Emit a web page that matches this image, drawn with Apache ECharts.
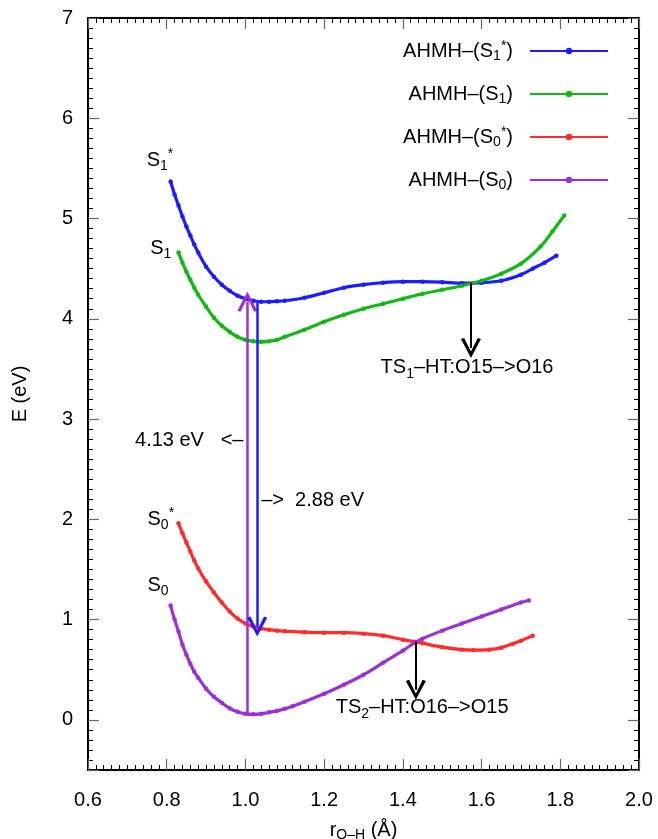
<!DOCTYPE html>
<html>
<head>
<meta charset="utf-8">
<title>AHMH potential energy curves</title>
<script src="https://cdn.jsdelivr.net/npm/echarts@6/dist/echarts.min.js"></script>
<style>
html,body{margin:0;padding:0;background:#fff;}
#chart{width:658px;height:839px;}
</style>
</head>
<body>
<div id="chart"></div>
<script>
// r(O-H) in Angstrom, E in eV
var rS1s = [0.81,0.82,0.83,0.84,0.85,0.86,0.87,0.88,0.90,0.92,0.94,0.96,0.98,1.00,1.02,1.04,1.06,1.08,1.10,1.15,1.20,1.25,1.30,1.35,1.40,1.45,1.50,1.55,1.60,1.65,1.70,1.73,1.76,1.79];
var eS1s = [5.37,5.24,5.13,5.02,4.92,4.83,4.74,4.66,4.52,4.42,4.34,4.28,4.23,4.20,4.18,4.17,4.17,4.175,4.18,4.21,4.26,4.31,4.34,4.36,4.37,4.37,4.365,4.355,4.36,4.38,4.44,4.50,4.56,4.63];

var rS1 = [0.83,0.84,0.85,0.86,0.87,0.88,0.90,0.92,0.94,0.96,0.98,1.00,1.02,1.04,1.06,1.08,1.10,1.15,1.20,1.25,1.30,1.35,1.40,1.45,1.50,1.55,1.60,1.65,1.70,1.75,1.78,1.81];
var eS1 = [4.66,4.56,4.47,4.39,4.31,4.24,4.12,4.01,3.93,3.87,3.82,3.79,3.775,3.77,3.775,3.79,3.82,3.89,3.97,4.04,4.10,4.15,4.20,4.25,4.29,4.33,4.38,4.45,4.55,4.72,4.87,5.03];

var rS0s = [0.83,0.84,0.85,0.86,0.87,0.88,0.90,0.92,0.94,0.96,0.98,1.00,1.02,1.04,1.06,1.08,1.10,1.15,1.20,1.25,1.30,1.35,1.40,1.43,1.45,1.50,1.55,1.58,1.62,1.65,1.68,1.70,1.73];
var eS0s = [1.96,1.86,1.77,1.68,1.59,1.51,1.38,1.27,1.17,1.08,1.01,0.96,0.93,0.91,0.90,0.89,0.885,0.875,0.87,0.87,0.86,0.84,0.80,0.78,0.765,0.725,0.70,0.695,0.70,0.72,0.76,0.79,0.84];

var rS0 = [0.81,0.82,0.83,0.84,0.85,0.86,0.87,0.88,0.90,0.92,0.94,0.96,0.98,1.00,1.02,1.04,1.06,1.08,1.10,1.12,1.15,1.20,1.25,1.30,1.35,1.40,1.43,1.45,1.50,1.55,1.60,1.65,1.70,1.72];
var eS0 = [1.14,1.00,0.88,0.75,0.65,0.56,0.48,0.42,0.31,0.23,0.17,0.115,0.08,0.06,0.055,0.06,0.075,0.09,0.11,0.135,0.18,0.26,0.35,0.45,0.57,0.69,0.77,0.81,0.89,0.96,1.03,1.10,1.17,1.19];

var seriesNames = ['AHMH-(S1*)','AHMH-(S1)','AHMH-(S0*)','AHMH-(S0)'];
var legendText = ['AHMH–(S{sub|1}{sup|*})','AHMH–(S{sub|1})','AHMH–(S{sub|0}{sup|*})','AHMH–(S{sub|0})'];

// vertical arrows: r, E from, E to
var arrowR    = [1.005, 1.03, 1.573, 1.433];
var arrowFrom = [0.06, 4.17, 4.36, 0.78];
var arrowTo   = [4.17, 0.93, 3.71, 0.30];

// text notes
var noteText = ['S{sub|1}{sup|*}','S{sub|1}','S{sub|0}{sup|*}','S{sub|0}',
                '4.13 eV   <–','–>  2.88 eV',
                'TS{sub|1}–HT:O15–>O16','TS{sub|2}–HT:O16–>O15'];
var noteR = [0.783,0.785,0.785,0.778,1.0,1.035,1.563,1.449];
var noteE = [5.58,4.70,2.00,1.34,2.79,2.19,3.51,0.12];
var notePos = ['inside','inside','inside','inside','left','right','inside','inside'];

var colors = ['#1c1cff','#12b812','#ff2a2a','#9a30d6'];
var arrowColors = ['#9a30d6','#1c1cff','#000','#000'];
var font = "'Liberation Sans', Arial, Helvetica, sans-serif";

var chart = echarts.init(document.getElementById('chart'));

function pairs(xs, ys){
	var out = [];
	for(var i=0;i<xs.length;i++){ out.push([xs[i], ys[i]]); }
	return out;
}

var richSub = {
	sub:{fontSize:14, lineHeight:10, verticalAlign:'bottom', fontFamily:font, color:'#000'},
	sup:{fontSize:14, lineHeight:10, verticalAlign:'top', fontFamily:font, color:'#000'}
};

var curves = [pairs(rS1s,eS1s), pairs(rS1,eS1), pairs(rS0s,eS0s), pairs(rS0,eS0)];
var series = [];
for(var k=0;k<curves.length;k++){
	series.push({
		name: seriesNames[k],
		type: 'line',
		smooth: 0.3,
		data: curves[k],
		symbol: 'circle',
		symbolSize: 4.5,
		showSymbol: true,
		itemStyle: {color: colors[k]},
		lineStyle: {color: colors[k], width: 3.2},
		z: 3
	});
}

var arrowData = [];
for(var a=0;a<arrowR.length;a++){
	arrowData.push({
		coords: [[arrowR[a], arrowFrom[a]], [arrowR[a], arrowTo[a]]],
		lineStyle: {color: arrowColors[a], width: a<2 ? 2.5 : 2, opacity: 1}
	});
}
series.push({
	type: 'lines',
	coordinateSystem: 'cartesian2d',
	symbol: ['none', 'path://M5,0 L10,12 L8.4,12.7 L5,4 L1.6,12.7 L0,12 Z'],
	symbolSize: [12, 20],
	lineStyle: {opacity: 1},
	data: arrowData,
	silent: true,
	z: 4
});

var noteData = [];
for(var n=0;n<noteText.length;n++){
	noteData.push({
		value: [noteR[n], noteE[n]],
		label: {formatter: noteText[n], position: notePos[n]}
	});
}
series.push({
	type: 'scatter',
	data: noteData,
	symbolSize: 0,
	itemStyle: {color: '#000', opacity: 1},
	silent: true,
	label: {
		show: true,
		distance: 2,
		fontSize: 20,
		lineHeight: 26,
		color: '#000',
		fontFamily: font,
		rich: richSub
	},
	z: 5
});

// frame axes: fine ticks on the axis line, longer ticks on the labelled values
function frameAxis(pos, showLabel){
	return {
		type: 'value',
		position: pos,
		axisLine: {show: true, onZero: false, lineStyle: {color: '#000', width: 2}},
		axisTick: {show: true, inside: true, length: 5, lineStyle: {color: '#000', width: 1}},
		splitLine: {show: false},
		axisLabel: {show: showLabel, fontSize: 20, color: '#000', fontFamily: font}
	};
}
function majorAxis(pos){
	return {
		type: 'value',
		position: pos,
		axisLine: {show: false, onZero: false},
		axisTick: {show: true, inside: true, length: 11, lineStyle: {color: '#666', width: 1.2}},
		splitLine: {show: false},
		axisLabel: {show: false}
	};
}

var xBottom = frameAxis('bottom', true);
xBottom.min = 0.6; xBottom.max = 2.0; xBottom.interval = 0.2;
xBottom.axisTick = {show: true, inside: true, length: 11, lineStyle: {color: '#666', width: 1.2}};
xBottom.minorTick = {show: true, splitNumber: 10, length: 5, lineStyle: {color: '#000', width: 1}};
xBottom.axisLabel.margin = 20;
xBottom.axisLabel.formatter = function(v){ return v.toFixed(1); };
xBottom.name = 'r{sub|O–H} (Å)';
xBottom.nameLocation = 'middle';
xBottom.nameGap = 48;
xBottom.nameTextStyle = {fontSize: 20, color: '#000', fontFamily: font, lineHeight: 24, rich: richSub};

var xTop = frameAxis('top', false);
xTop.min = 0.6; xTop.max = 2.0; xTop.interval = 0.2;
xTop.axisTick = {show: true, inside: true, length: 11, lineStyle: {color: '#666', width: 1.2}};
xTop.minorTick = {show: true, splitNumber: 10, length: 5, lineStyle: {color: '#000', width: 1}};

var yLeft = frameAxis('left', true);
yLeft.min = -0.5; yLeft.max = 7; yLeft.interval = 0.1;
yLeft.axisLabel.margin = 15;
yLeft.axisLabel.formatter = function(v){ return Math.abs(v - Math.round(v)) < 1e-6 ? String(Math.round(v)) : ''; };
yLeft.name = 'E (eV)';
yLeft.nameLocation = 'middle';
yLeft.nameGap = 58;
yLeft.nameTextStyle = {fontSize: 20, color: '#000', fontFamily: font};

var yRight = frameAxis('right', false);
yRight.min = -0.5; yRight.max = 7; yRight.interval = 0.1;

var yLeftMajor = majorAxis('left');
yLeftMajor.min = -0.5; yLeftMajor.max = 7; yLeftMajor.splitNumber = 7;
var yRightMajor = majorAxis('right');
yRightMajor.min = -0.5; yRightMajor.max = 7; yRightMajor.splitNumber = 7;

chart.setOption({
	animation: false,
	backgroundColor: '#fff',
	textStyle: {fontFamily: font},
	grid: {left: 88, right: 19, top: 18, bottom: 69, outerBoundsMode: 'none'},
	legend: {
		data: seriesNames,
		orient: 'vertical',
		align: 'right',
		right: 44,
		top: 34,
		itemWidth: 78,
		itemHeight: 8,
		itemGap: 19,
		formatter: function(name){ return legendText[seriesNames.indexOf(name)]; },
		textStyle: {fontSize: 20, color: '#000', fontFamily: font, lineHeight: 24, padding: [0, 12, 0, 0], rich: richSub}
	},
	xAxis: [xBottom, xTop],
	yAxis: [yLeft, yRight, yLeftMajor, yRightMajor],
	series: series
});
</script>
</body>
</html>
